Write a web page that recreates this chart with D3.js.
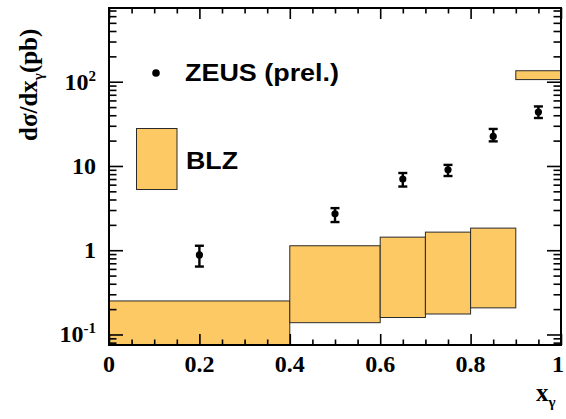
<!DOCTYPE html>
<html>
<head>
<meta charset="utf-8">
<script src="https://cdn.jsdelivr.net/npm/d3@7"></script>
<style>
  html, body { margin: 0; padding: 0; background: #fff; }
  svg { display: block; }
  .num { font-family: "Liberation Serif", "Times New Roman", serif; font-weight: bold; }
  .leg { font-family: "Liberation Sans", Arial, Helvetica, sans-serif; font-weight: bold; }
</style>
</head>
<body>
<svg id="chart" width="566" height="419"></svg>
<script>
// BLZ prediction bins (x_gamma ranges) and band limits (pb)
const binLow  = [0.0, 0.4, 0.6, 0.7, 0.8, 0.9];
const binHigh = [0.4, 0.6, 0.7, 0.8, 0.9, 1.0];
const blzLow  = [0.05, 0.138, 0.159, 0.175, 0.207, 106];
const blzHigh = [0.25, 1.13, 1.43, 1.64, 1.83, 135];

// ZEUS preliminary measurements
const zeusX    = [0.2, 0.5, 0.65, 0.75, 0.85, 0.95];
const zeusY    = [0.88, 2.71, 7.0, 9.0, 22.4, 43.7];
const zeusUp   = [1.13, 3.16, 8.25, 10.3, 27.5, 50.9];
const zeusDown = [0.64, 2.16, 5.7, 7.6, 19.6, 37.1];

// Axis ticks
const xMajor = [0, 0.2, 0.4, 0.6, 0.8, 1.0];
const xTickLabels = ["0", "0.2", "0.4", "0.6", "0.8", "1"];
const yMajor = [0.1, 1, 10, 100];
const yTickLabels = [["10", "-1"], ["1", ""], ["10", ""], ["10", "2"]];

const L = 109, R = 561, T = 8, B = 345;
const svg = d3.select("#chart");

const x = d3.scaleLinear().domain([0, 1]).range([L, R]);
const y = d3.scaleLog().domain([0.075, 750]).range([B, T]);

const xMinor = d3.range(0, 1.0001, 0.05).map(v => +v.toFixed(2)).filter(v => !xMajor.some(m => Math.abs(m - v) < 1e-6));
const yMinor = [];
[0.01, 0.1, 1, 10, 100].forEach(d => { for (let k = 2; k <= 9; k++) { const v = d * k; if (v >= 0.075 && v <= 750) yMinor.push(v); } });

svg.append("defs").append("clipPath").attr("id", "plotclip")
  .append("rect").attr("x", L).attr("y", T).attr("width", R - L).attr("height", B - T);

// BLZ bands
svg.append("g").attr("clip-path", "url(#plotclip)")
  .selectAll("rect").data(binLow).join("rect")
  .attr("x", (d, i) => x(binLow[i]))
  .attr("width", (d, i) => x(binHigh[i]) - x(binLow[i]))
  .attr("y", (d, i) => y(blzHigh[i]))
  .attr("height", (d, i) => y(blzLow[i]) - y(blzHigh[i]))
  .attr("fill", "#fdc964")
  .attr("stroke", "#2a2a2a")
  .attr("stroke-width", 1);

// axes with ticks on all four sides
function styleAxis(g) {
  g.select(".domain").remove();
  g.selectAll("line").attr("stroke", "#000").attr("stroke-width", 1.6);
  g.selectAll("text").remove();
}
const fmt = () => "";
svg.append("g").attr("transform", `translate(0,${B})`).call(d3.axisTop(x).tickValues(xMajor).tickSize(11).tickFormat(fmt)).call(styleAxis);
svg.append("g").attr("transform", `translate(0,${B})`).call(d3.axisTop(x).tickValues(xMinor).tickSize(5.5).tickFormat(fmt)).call(styleAxis);
svg.append("g").attr("transform", `translate(0,${T})`).call(d3.axisBottom(x).tickValues(xMajor).tickSize(11).tickFormat(fmt)).call(styleAxis);
svg.append("g").attr("transform", `translate(0,${T})`).call(d3.axisBottom(x).tickValues(xMinor).tickSize(5.5).tickFormat(fmt)).call(styleAxis);
svg.append("g").attr("transform", `translate(${L},0)`).call(d3.axisRight(y).tickValues(yMajor).tickSize(14).tickFormat(fmt)).call(styleAxis);
svg.append("g").attr("transform", `translate(${L},0)`).call(d3.axisRight(y).tickValues(yMinor).tickSize(7.5).tickFormat(fmt)).call(styleAxis);
svg.append("g").attr("transform", `translate(${R},0)`).call(d3.axisLeft(y).tickValues(yMajor).tickSize(14).tickFormat(fmt)).call(styleAxis);
svg.append("g").attr("transform", `translate(${R},0)`).call(d3.axisLeft(y).tickValues(yMinor).tickSize(7.5).tickFormat(fmt)).call(styleAxis);

// frame
svg.append("rect").attr("x", L).attr("y", T).attr("width", R - L).attr("height", B - T)
  .attr("fill", "none").attr("stroke", "#000").attr("stroke-width", 2);

// x tick labels
svg.append("g").selectAll("text").data(xMajor).join("text")
  .attr("class", "num")
  .attr("x", d => x(d) + (d === 1 ? -3 : 0))
  .attr("y", 372)
  .attr("text-anchor", "middle")
  .attr("font-size", 24)
  .text((d, i) => xTickLabels[i]);

// y tick labels with superscript exponents
const yl = svg.append("g").selectAll("text").data(yMajor).join("text")
  .attr("class", "num")
  .attr("x", 96)
  .attr("y", d => y(d) + 8)
  .attr("text-anchor", "end")
  .attr("font-size", 24);
yl.each(function (d, i) {
  const t = d3.select(this);
  t.append("tspan").text(yTickLabels[i][0]);
  if (yTickLabels[i][1]) t.append("tspan").attr("dy", -9).attr("font-size", 15).text(yTickLabels[i][1]);
});

// axis titles
const yt = svg.append("text").attr("class", "num")
  .attr("transform", "translate(37,141) rotate(-90)")
  .attr("font-size", 25);
yt.append("tspan").text("dσ/dx");
yt.append("tspan").attr("dy", 6).attr("font-size", 15).text("γ");
yt.append("tspan").attr("dy", -6).text("(pb)");

const xt = svg.append("text").attr("class", "num").attr("x", 536).attr("y", 401).attr("font-size", 25);
xt.append("tspan").text("x");
xt.append("tspan").attr("dy", 6).attr("font-size", 15).text("γ");

// ZEUS points with error bars
const pts = svg.append("g");
pts.selectAll("line.err").data(zeusX).join("line").attr("class", "err")
  .attr("x1", d => x(d)).attr("x2", d => x(d))
  .attr("y1", (d, i) => y(zeusUp[i])).attr("y2", (d, i) => y(zeusDown[i]))
  .attr("stroke", "#000").attr("stroke-width", 2.4);
pts.selectAll("line.capu").data(zeusX).join("line").attr("class", "capu")
  .attr("x1", d => x(d) - 4.5).attr("x2", d => x(d) + 4.5)
  .attr("y1", (d, i) => y(zeusUp[i])).attr("y2", (d, i) => y(zeusUp[i]))
  .attr("stroke", "#000").attr("stroke-width", 2.4);
pts.selectAll("line.capd").data(zeusX).join("line").attr("class", "capd")
  .attr("x1", d => x(d) - 4.5).attr("x2", d => x(d) + 4.5)
  .attr("y1", (d, i) => y(zeusDown[i])).attr("y2", (d, i) => y(zeusDown[i]))
  .attr("stroke", "#000").attr("stroke-width", 2.4);
pts.selectAll("circle").data(zeusX).join("circle")
  .attr("cx", d => x(d)).attr("cy", (d, i) => y(zeusY[i])).attr("r", 3.6)
  .attr("fill", "#000");

// legend
svg.append("circle").attr("cx", 156).attr("cy", 73).attr("r", 3.8).attr("fill", "#000");
svg.append("text").attr("class", "leg").attr("x", 185).attr("y", 80.5).attr("font-size", 24)
  .attr("textLength", 154).attr("lengthAdjust", "spacingAndGlyphs").text("ZEUS (prel.)");
svg.append("rect").attr("x", 136.5).attr("y", 128.5).attr("width", 40.5).attr("height", 61)
  .attr("fill", "#fdc964").attr("stroke", "#2a2a2a").attr("stroke-width", 1);
svg.append("text").attr("class", "leg").attr("x", 186).attr("y", 168.5).attr("font-size", 24)
  .attr("textLength", 52).attr("lengthAdjust", "spacingAndGlyphs").text("BLZ");
</script>
</body>
</html>
